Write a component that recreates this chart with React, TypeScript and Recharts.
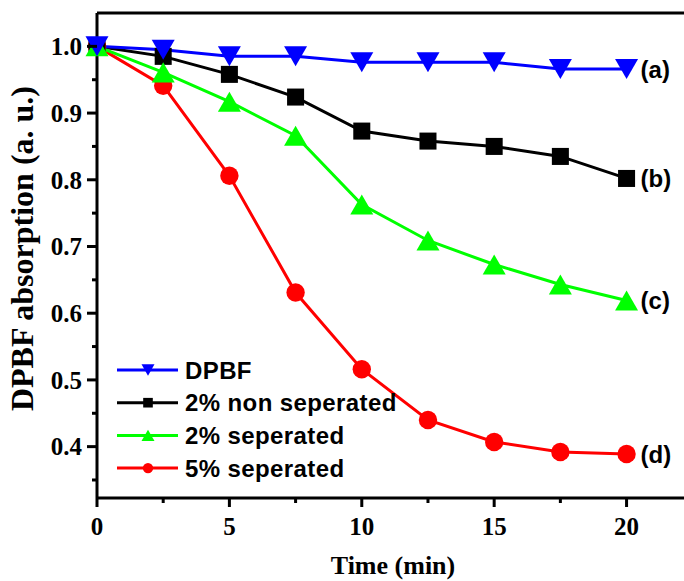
import { LineChart, Line, XAxis, YAxis, ReferenceLine, Legend } from 'recharts'

const times = [0, 2.5, 5, 7.5, 10, 12.5, 15, 17.5, 20]
const dpbf = [1.0, 0.995, 0.985, 0.985, 0.976, 0.976, 0.976, 0.966, 0.966]
const nonSep2 = [1.0, 0.985, 0.958, 0.924, 0.873, 0.858, 0.85, 0.835, 0.802]
const sep2 = [1.0, 0.961, 0.917, 0.866, 0.763, 0.709, 0.673, 0.643, 0.619]
const sep5 = [1.0, 0.941, 0.806, 0.631, 0.516, 0.44, 0.407, 0.392, 0.389]

const xTicks = [0, 2.5, 5, 7.5, 10, 12.5, 15, 17.5, 20, 22.5]
const yTicks = [0.35, 0.4, 0.45, 0.5, 0.55, 0.6, 0.65, 0.7, 0.75, 0.8, 0.85, 0.9, 0.95, 1.0]

const SERIF = "'Times New Roman', 'Liberation Serif', serif"
const SANS = "Arial, 'Liberation Sans', sans-serif"

// legend order (top to bottom)
const series = [
    { key: 'dpbf', name: 'DPBF', tag: '(a)', color: '#0000FF', shape: 'down' },
    { key: 'non2', name: '2% non seperated', tag: '(b)', color: '#000000', shape: 'square' },
    { key: 'sep2', name: '2% seperated', tag: '(c)', color: '#00FF00', shape: 'up' },
    { key: 'sep5', name: '5% seperated', tag: '(d)', color: '#FF0000', shape: 'circle' },
]
// drawing order (bottom to top)
const drawOrder = ['sep5', 'non2', 'sep2', 'dpbf']

const data = times.map((t, i) => ({
    t,
    dpbf: dpbf[i],
    non2: nonSep2[i],
    sep2: sep2[i],
    sep5: sep5[i],
}))

const Marker = ({ shape, cx, cy, size, color }: { shape: string; cx: number; cy: number; size: number; color: string }) => {
    if (shape === 'down') {
        const w = size, h = size * 0.87
        return <polygon points={`${cx - w / 2},${cy - h / 2} ${cx + w / 2},${cy - h / 2} ${cx},${cy + h / 2}`} fill={color} />
    }
    if (shape === 'up') {
        const w = size, h = size * 0.87
        return <polygon points={`${cx - w / 2},${cy + h / 2} ${cx + w / 2},${cy + h / 2} ${cx},${cy - h / 2}`} fill={color} />
    }
    if (shape === 'square') {
        const s = size * 0.74
        return <rect x={cx - s / 2} y={cy - s / 2} width={s} height={s} fill={color} />
    }
    return <circle cx={cx} cy={cy} r={size * 0.4} fill={color} />
}

const XTick = (props: any) => {
    const { x, y, payload } = props
    const major = payload.value % 5 === 0
    return (
        <g>
            <line x1={x} x2={x} y1={y} y2={y + (major ? 9 : 5)} stroke="#000" strokeWidth={3} />
            {major && (
                <text x={x} y={y + 37} textAnchor="middle" fontFamily={SERIF} fontWeight="bold" fontSize={25} fill="#000">
                    {payload.value}
                </text>
            )}
        </g>
    )
}

const YTick = (props: any) => {
    const { x, y, payload } = props
    const major = Math.round(payload.value * 100) % 10 === 0
    return (
        <g>
            <line x1={x - (major ? 10 : 5)} x2={x} y1={y} y2={y} stroke="#000" strokeWidth={3} />
            {major && (
                <text x={x - 15} y={y} dy="0.35em" textAnchor="end" fontFamily={SERIF} fontWeight="bold" fontSize={25} fill="#000">
                    {payload.value.toFixed(1)}
                </text>
            )}
        </g>
    )
}

const renderLegend = () => (
    <svg width={320} height={140}>
        {series.map((s, i) => {
            const cy = 15 + i * 32.7
            return (
                <g key={s.key}>
                    <line x1={7} x2={68} y1={cy} y2={cy} stroke={s.color} strokeWidth={3} />
                    <Marker shape={s.shape} cx={38} cy={cy} size={13} color={s.color} />
                    <text x={75} y={cy} dy="0.36em" fontFamily={SANS} fontWeight="bold" fontSize={24} letterSpacing={0.4} fill="#000">
                        {s.name}
                    </text>
                </g>
            )
        })}
    </svg>
)

export default function App() {
    const lastIndex = times.length - 1
    return (
        <div style={{ position: 'fixed', left: 0, top: 0, width: 684, height: 581, overflow: 'hidden', background: '#fff' }}>
            <LineChart width={720} height={581} data={data} margin={{ top: 13, right: 14, bottom: 82, left: 37 }}>
                <XAxis
                    dataKey="t"
                    type="number"
                    domain={[0, 23]}
                    ticks={xTicks}
                    height={1}
                    tickSize={0}
                    tickMargin={0}
                    tick={<XTick />}
                    axisLine={{ stroke: '#000', strokeWidth: 3 }}
                    tickLine={false}
                    interval={0}
                    label={({ viewBox }: any) => (
                        <text x={393} y={viewBox.y + 76} textAnchor="middle" fontFamily={SERIF} fontWeight="bold" fontSize={26} fill="#000">
                            Time (min)
                        </text>
                    )}
                />
                <YAxis
                    type="number"
                    domain={[0.323, 1.05]}
                    ticks={yTicks}
                    width={60}
                    tickSize={0}
                    tickMargin={0}
                    tick={<YTick />}
                    axisLine={{ stroke: '#000', strokeWidth: 3 }}
                    tickLine={false}
                    interval={0}
                    allowDataOverflow
                    label={({ viewBox }: any) => {
                        const lx = viewBox.x - 4
                        const ly = viewBox.y + viewBox.height / 2 - 7
                        return (
                            <text x={lx} y={ly} transform={`rotate(-90, ${lx}, ${ly})`} textAnchor="middle" fontFamily={SERIF} fontWeight="bold" fontSize={32} fill="#000">
                                DPBF absorption (a. u.)
                            </text>
                        )
                    }}
                />
                <ReferenceLine y={1.05} stroke="#000" strokeWidth={3} ifOverflow="visible" />
                <Legend
                    layout="vertical"
                    align="center"
                    verticalAlign="middle"
                    content={renderLegend}
                    wrapperStyle={{ position: 'absolute', left: 110, top: 355, width: 320, height: 140 }}
                />
                {drawOrder.map((k) => {
                    const s = series.find((x) => x.key === k)!
                    return (
                        <Line
                            key={s.key}
                            dataKey={s.key}
                            name={s.name}
                            stroke={s.color}
                            strokeWidth={3}
                            isAnimationActive={false}
                            dot={(p: any) => (
                                <Marker key={`${s.key}-${p.index}`} shape={s.shape} cx={p.cx} cy={p.cy} size={23} color={s.color} />
                            )}
                            activeDot={false}
                            label={(p: any) =>
                                p.index === lastIndex ? (
                                    <text key={`tag-${s.key}`} x={p.x + 14} y={p.y} dy="0.36em" fontFamily={SANS} fontWeight="bold" fontSize={24} fill="#000">
                                        {s.tag}
                                    </text>
                                ) : (
                                    <g key={`tag-${s.key}-${p.index}`} />
                                )
                            }
                        />
                    )
                })}
            </LineChart>
        </div>
    )
}
